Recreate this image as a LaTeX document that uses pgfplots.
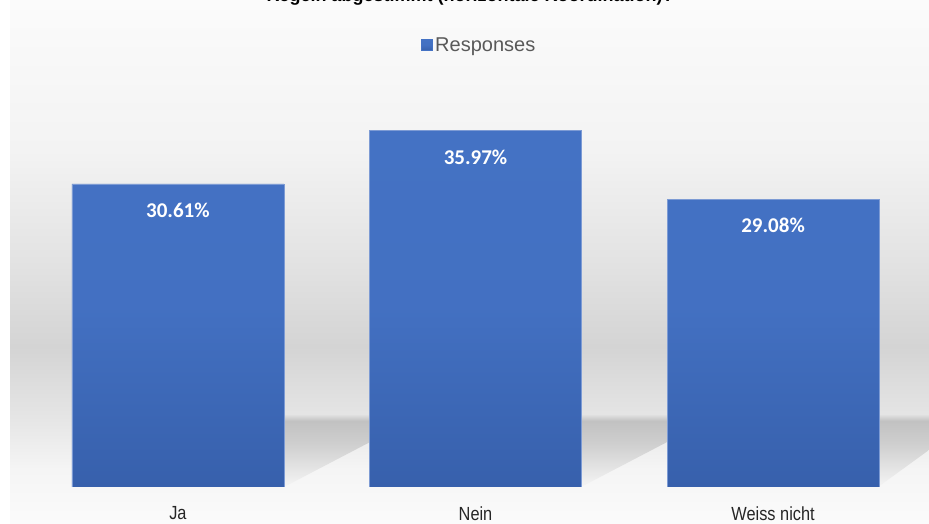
\documentclass[border=0pt]{standalone}
\usepackage{pgfplots}
\pgfplotsset{compat=1.18}
\usepackage{fontspec}
\setmainfont{Liberation Sans}
\newfontfamily\carlito{Carlito}
\definecolor{barblue}{HTML}{4472C4}
\definecolor{barblued}{HTML}{3760AC}
\definecolor{bgA}{HTML}{FBFBFB}
\definecolor{bgB}{HTML}{F3F3F3}
\definecolor{bgC}{HTML}{E3E3E3}
\definecolor{bgD}{HTML}{D4D4D4}
\definecolor{bgE}{HTML}{E6E6E6}
\definecolor{bgF}{HTML}{F5F5F5}
\definecolor{legtext}{HTML}{595959}
\pgfdeclareverticalshading{chartbg}{100bp}{color(0bp)=(bgA); color(25bp)=(bgA); color(30.2bp)=(bgF); color(34.9bp)=(bgE); color(41.9bp)=(bgD); color(50.2bp)=(bgC); color(60.7bp)=(bgB); color(75bp)=(bgA); color(100bp)=(bgA)}
\pgfdeclareverticalshading{shadowsh}{100bp}{color(0bp)=(bgF); color(25bp)=(bgF); color(55bp)=(gray!38); color(71bp)=(gray!48); color(75bp)=(gray!25); color(100bp)=(gray!25)}
\begin{document}
\begin{tikzpicture}[x=1pt,y=1pt]
\path[use as bounding box] (0,0) rectangle (929,524);
\clip (0,0) rectangle (929,524);
\fill[white] (0,0) rectangle (929,524);
\shade[shading=chartbg] (10,0) rectangle (929,524);
% title (cut off at the top edge, as in the reference)
\node[anchor=base, font=\bfseries\fontsize{18}{20}\selectfont, text=black] at (470,522.5) {Regeln abgestimmt (horizontale Koordination)?};
% decorative floor shadows
\shade[shading=shadowsh] (284,109) -- (374,109) -- (374,84) -- (284,37) -- cycle;
\shade[shading=shadowsh] (581,109) -- (671,109) -- (671,84) -- (581,37) -- cycle;
\shade[shading=shadowsh] (878,109) -- (929,109) -- (929,74) -- (878,37) -- cycle;
\begin{axis}[
  at={(0pt,37pt)}, anchor=south west,
  scale only axis, width=929pt, height=396pt,
  xmin=-0.598, xmax=2.524, ymin=0, ymax=40,
  axis line style={draw=none},
  tick style={draw=none},
  ytick=\empty,
  xtick=data,
  xticklabels={Ja,Nein,Weiss nicht},
  xticklabel style={font=\fontsize{19}{21}\selectfont, text=black!85, yshift=-11.5pt, xscale=0.86},
  ybar, bar width=212pt, bar shift=0pt,
  nodes near coords={\pgfmathprintnumber[fixed,fixed zerofill,precision=2,assume math mode=true]{\pgfplotspointmeta}\%},
  every node near coord/.append style={anchor=north, yshift=-15pt, font=\carlito\bfseries\fontsize{21}{23}\selectfont, text=white},
  legend style={at={(0.516,1.116)}, anchor=center, draw=none, fill=none, font=\fontsize{20}{22}\selectfont, text=legtext, inner sep=0pt},
  legend image code/.code={\fill[barblue] (0pt,-5.5pt) rectangle (11pt,5.5pt);},
  legend cell align=left,
]
\addplot[draw={rgb,255:red,125;green,155;blue,212}, line width=0.8pt, shading=axis, top color=barblue, bottom color=barblued, middle color=barblue!90!barblued]
  coordinates {(0,30.61) (1,35.97) (2,29.08)};
\addlegendentry{Responses}
\end{axis}
\end{tikzpicture}
\end{document}
